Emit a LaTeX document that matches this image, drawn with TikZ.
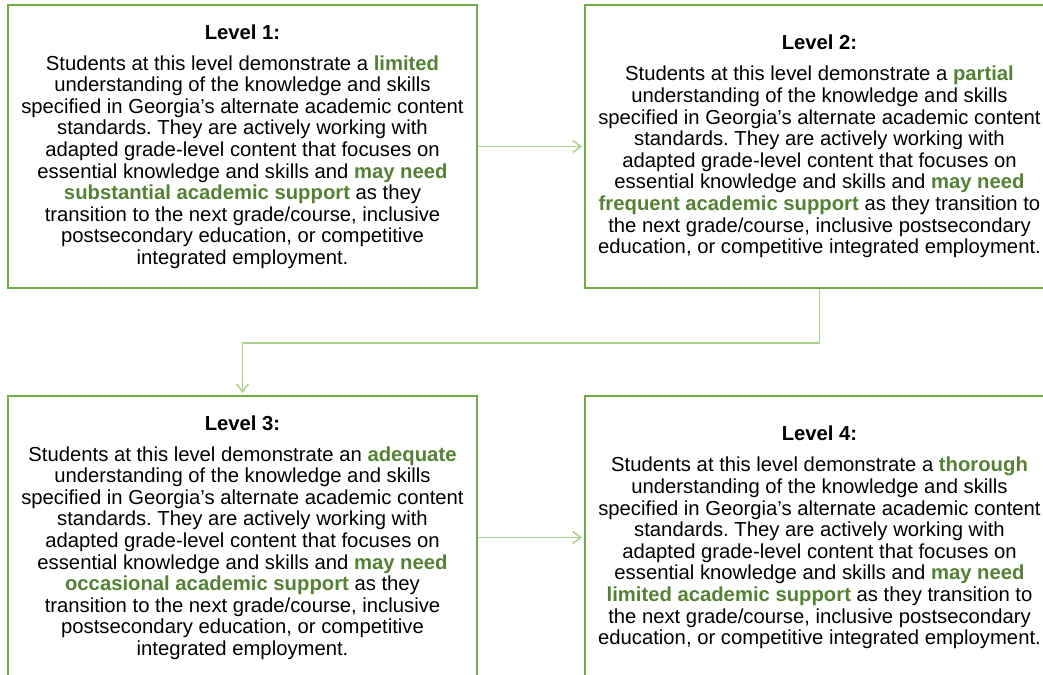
\documentclass[tikz,border=0pt]{standalone}
\usepackage{fontspec}
\setmainfont{Liberation Sans}
\usetikzlibrary{arrows.meta}
\definecolor{boxgreen}{RGB}{112,173,71}
\definecolor{arrowgreen}{RGB}{169,209,142}
\definecolor{txtgreen}{RGB}{84,130,53}
\newcommand{\hl}[1]{\textbf{\textcolor{txtgreen}{#1}}}
\frenchspacing
\begin{document}
\begin{tikzpicture}[x=0.75pt,y=-0.75pt,
  levelbox/.style={draw=boxgreen, line width=1.5pt, rectangle, inner sep=0pt,
    minimum width=469*0.75pt, minimum height=283*0.75pt, align=center,
    font=\fontsize{15.2}{16.2}\selectfont},
  flow/.style={draw=arrowgreen, line width=1.1pt, -{Straight Barb[length=6pt,width=9pt]}, shorten >=1.5pt}]
\useasboundingbox (0,0) rectangle (1043,675);
\clip (0,0) rectangle (1043,675);
\node[levelbox] (b1) at (242.5,146.5) {\textbf{Level 1:}\\[7pt]
Students at this level demonstrate a \hl{limited}\\
understanding of the knowledge and skills\\
specified in Georgia’s alternate academic content\\
standards. They are actively working with\\
adapted grade-level content that focuses on\\
essential knowledge and skills and \hl{may need}\\
\hl{substantial academic support} as they\\
transition to the next grade/course, inclusive\\
postsecondary education, or competitive\\
integrated employment.};
\node[levelbox] (b2) at (819.5,146.5) {\textbf{Level 2:}\\[7pt]
Students at this level demonstrate a \hl{partial}\\
understanding of the knowledge and skills\\
specified in Georgia’s alternate academic content\\
standards. They are actively working with\\
adapted grade-level content that focuses on\\
essential knowledge and skills and \hl{may need}\\
\hl{frequent academic support} as they transition to\\
the next grade/course, inclusive postsecondary\\
education, or competitive integrated employment.};
\node[levelbox] (b3) at (242.5,537.5) {\textbf{Level 3:}\\[7pt]
Students at this level demonstrate an \hl{adequate}\\
understanding of the knowledge and skills\\
specified in Georgia’s alternate academic content\\
standards. They are actively working with\\
adapted grade-level content that focuses on\\
essential knowledge and skills and \hl{may need}\\
\hl{occasional academic support} as they\\
transition to the next grade/course, inclusive\\
postsecondary education, or competitive\\
integrated employment.};
\node[levelbox] (b4) at (819.5,537.5) {\textbf{Level 4:}\\[7pt]
Students at this level demonstrate a \hl{thorough}\\
understanding of the knowledge and skills\\
specified in Georgia’s alternate academic content\\
standards. They are actively working with\\
adapted grade-level content that focuses on\\
essential knowledge and skills and \hl{may need}\\
\hl{limited academic support} as they transition to\\
the next grade/course, inclusive postsecondary\\
education, or competitive integrated employment.};
\draw[flow] (b1.east) -- (b2.west);
\draw[flow] (b2.south) -- ++(0,54) -| (b3.north);
\draw[flow] (b3.east) -- (b4.west);
\end{tikzpicture}
\end{document}
